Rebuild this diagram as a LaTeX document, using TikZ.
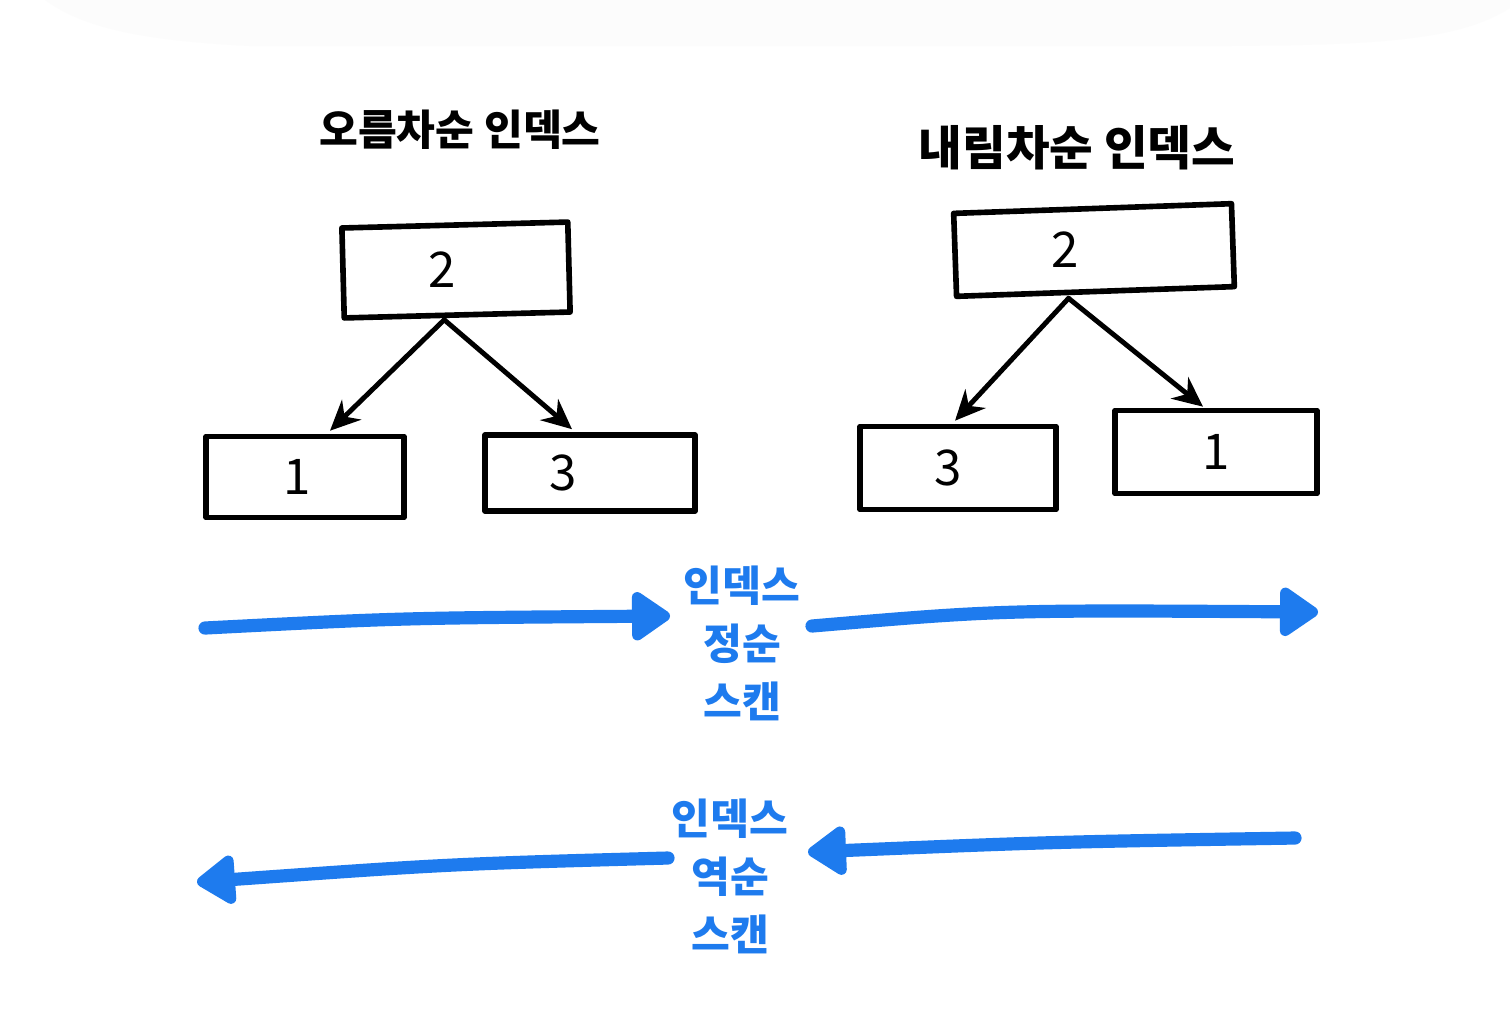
\documentclass[tikz,border=0pt]{standalone}
\usepackage{fontspec}
\setmainfont{Noto Sans CJK KR}
\usetikzlibrary{arrows.meta,calc}
\definecolor{pen}{HTML}{1E7BEE}
\definecolor{haze}{RGB}{252,252,252}
\begin{document}
\begin{tikzpicture}[x=0.02cm,y=-0.02cm,
  box/.style={draw, line width=3.2pt, line join=round, inner sep=0pt},
  num/.style={font=\fontsize{28}{30}\selectfont},
  title/.style={font=\fontsize{#1}{30}\selectfont\bfseries},
  note/.style={text=pen, align=center, font=\fontsize{24}{33}\selectfont\bfseries},
  link/.style={line width=2.8pt, line cap=round, -{Stealth[length=0.6cm,width=0.55cm]}},
  scan/.style={draw=pen, line width=7.5pt, line cap=round,
    -{Triangle[length=0.85cm,width=1.1cm,round]}}]

% canvas
\fill[white] (0,0) rectangle (1510,1019);
\useasboundingbox (0,0) rectangle (1510,1019);
\fill[haze] (45,0) -- (1510,0) -- (1510,8) .. controls (1460,40) and (1380,45) .. (1230,46)
  -- (250,46) .. controls (130,40) and (80,25) .. cycle;

% titles
\node[title=24] (asc) at (460,130) {오름차순 인덱스};
\node[title=27] (desc) at (1077,148) {내림차순 인덱스};

% ascending index
\node[box, minimum width=4.52cm, minimum height=1.8cm, rotate=1.5,
  label={[num, xshift=-0.28cm]center:2}] (lt) at (456,270) {};
\node[box, minimum width=3.96cm, minimum height=1.62cm,
  label={[num, xshift=-0.16cm]center:1}] (lb1) at (305,477) {};
\node[box, minimum width=4.2cm, minimum height=1.52cm,
  label={[num, xshift=-0.54cm]center:3}] (lb3) at (590,473) {};
\draw[link] ($(lt.south)+(-13,2)$) -- ($(lb1.north)+(25,-3)$);
\draw[link] ($(lt.south)+(-13,2)$) -- ($(lb3.north)+(-18,-3)$);

% descending index
\node[box, minimum width=5.56cm, minimum height=1.66cm, rotate=2,
  label={[num, xshift=-0.58cm]center:2}] (rt) at (1094,250) {};
\node[box, minimum width=3.92cm, minimum height=1.66cm,
  label={[num, xshift=-0.2cm]center:3}] (rb3) at (958,468) {};
\node[box, minimum width=4.04cm, minimum height=1.66cm,
  label={[num]center:1}] (rb1) at (1216,452) {};
\draw[link] ($(rt.south)+(-27,4)$) -- ($(rb3.north)+(-3,-3)$);
\draw[link] ($(rt.south)+(-27,4)$) -- ($(rb1.north)+(-13,-1)$);

% forward scan
\node[note] (fwd) at (742,643) {인덱스\\정순\\스캔};
\coordinate (f1) at (205,628);
\coordinate (f2) at (670,616);
\coordinate (f3) at (812,626);
\coordinate (f4) at (1318,612);
\draw[scan] (f1) .. controls (400,618) .. (f2);
\draw[scan] (f3) .. controls (1000,610) .. (f4);

% backward scan
\node[note] (bwd) at (730,876) {인덱스\\역순\\스캔};
\coordinate (b1) at (668,858);
\coordinate (b2) at (197,882);
\coordinate (b3) at (1295,838);
\coordinate (b4) at (808,852);
\draw[scan] (b1) .. controls (450,864) .. (b2);
\draw[scan] (b3) .. controls (1050,842) .. (b4);
\end{tikzpicture}
\end{document}
